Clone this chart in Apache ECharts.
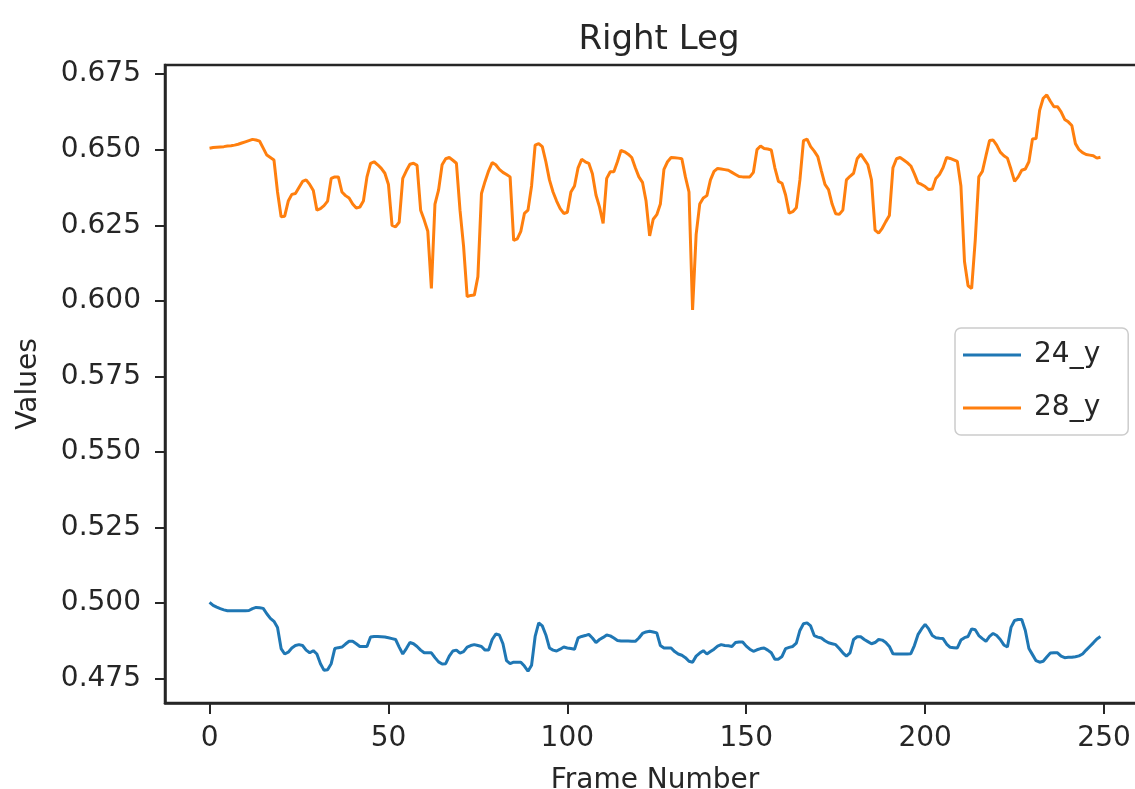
<!DOCTYPE html>
<html>
<head>
<meta charset="utf-8">
<script src="https://cdn.jsdelivr.net/npm/echarts@6/dist/echarts.min.js"></script>
<style>
  html, body { margin: 0; padding: 0; background: #fff; }
  #chart { width: 1135px; height: 789px; }
</style>
</head>
<body>
<div id="chart"></div>
<script>
// values, one per frame (0..249)
const y24 = [
  0.5003, 0.4993, 0.4987, 0.4982, 0.4978, 0.4975, 0.4975, 0.4975, 0.4975, 0.4975,
  0.4975, 0.4976, 0.4982, 0.4986, 0.4985, 0.4983, 0.4965, 0.4950, 0.4940, 0.4920,
  0.4850, 0.4832, 0.4838, 0.4852, 0.4860, 0.4863, 0.4860, 0.4845, 0.4836, 0.4843,
  0.4832, 0.4800, 0.4778, 0.4780, 0.4800, 0.4850, 0.4853, 0.4855, 0.4865, 0.4874,
  0.4874, 0.4866, 0.4857, 0.4857, 0.4857, 0.4888, 0.4890, 0.4890, 0.4889, 0.4888,
  0.4886, 0.4883, 0.4880, 0.4855, 0.4832, 0.4850, 0.4870, 0.4866, 0.4857, 0.4845,
  0.4836, 0.4836, 0.4836, 0.4820, 0.4806, 0.4799, 0.4800, 0.4825, 0.4842, 0.4845,
  0.4835, 0.4840, 0.4855, 0.4860, 0.4863, 0.4860, 0.4857, 0.4845, 0.4845, 0.4880,
  0.4898, 0.4895, 0.4866, 0.4810, 0.4800, 0.4805, 0.4805, 0.4805, 0.4792, 0.4775,
  0.4795, 0.4890, 0.4935, 0.4925, 0.4895, 0.4852, 0.4845, 0.4842, 0.4848, 0.4855,
  0.4852, 0.4850, 0.4848, 0.4885, 0.4890, 0.4893, 0.4897, 0.4885, 0.4870, 0.4880,
  0.4887, 0.4895, 0.4892, 0.4885, 0.4877, 0.4875, 0.4875, 0.4875, 0.4874, 0.4874,
  0.4885, 0.4900, 0.4905, 0.4907, 0.4905, 0.4902, 0.4860, 0.4852, 0.4852, 0.4852,
  0.4840, 0.4832, 0.4828, 0.4820, 0.4808, 0.4805, 0.4825, 0.4835, 0.4843, 0.4832,
  0.4840, 0.4848, 0.4858, 0.4863, 0.4860, 0.4859, 0.4857, 0.4870, 0.4872, 0.4872,
  0.4858, 0.4848, 0.4841, 0.4846, 0.4850, 0.4852, 0.4845, 0.4836, 0.4815, 0.4815,
  0.4824, 0.4850, 0.4854, 0.4857, 0.4868, 0.4910, 0.4932, 0.4935, 0.4925, 0.4893,
  0.4888, 0.4885, 0.4876, 0.4869, 0.4866, 0.4863, 0.4850, 0.4836, 0.4825, 0.4836,
  0.4880, 0.4889, 0.4889, 0.4880, 0.4873, 0.4866, 0.4870, 0.4880, 0.4878, 0.4870,
  0.4857, 0.4833, 0.4832, 0.4832, 0.4832, 0.4832, 0.4833, 0.4860, 0.4896, 0.4915,
  0.4930, 0.4915, 0.4893, 0.4886, 0.4884, 0.4883, 0.4865, 0.4854, 0.4853, 0.4852,
  0.4878, 0.4886, 0.4890, 0.4915, 0.4912, 0.4893, 0.4883, 0.4874, 0.4890, 0.4900,
  0.4893, 0.4880, 0.4862, 0.4855, 0.4920, 0.4943, 0.4946, 0.4946, 0.4910, 0.4850,
  0.4830, 0.4810, 0.4805, 0.4808, 0.4822, 0.4835, 0.4836, 0.4836, 0.4825, 0.4820,
  0.4821, 0.4821, 0.4823, 0.4826, 0.4832, 0.4845, 0.4857, 0.4869, 0.4882, 0.4890
];

const y28 = [
  0.6505, 0.6507, 0.6508, 0.6509, 0.6510, 0.6512, 0.6513, 0.6515, 0.6518, 0.6522,
  0.6526, 0.6530, 0.6534, 0.6532, 0.6528, 0.6505, 0.6482, 0.6474, 0.6466, 0.6360,
  0.6278, 0.6280, 0.6330, 0.6352, 0.6355, 0.6375, 0.6395, 0.6400, 0.6385, 0.6365,
  0.6300, 0.6305, 0.6315, 0.6330, 0.6405, 0.6410, 0.6410, 0.6360, 0.6348, 0.6340,
  0.6320, 0.6307, 0.6310, 0.6330, 0.6410, 0.6455, 0.6460, 0.6450, 0.6438, 0.6422,
  0.6385, 0.6250, 0.6245, 0.6260, 0.6405, 0.6430, 0.6452, 0.6455, 0.6448, 0.6300,
  0.6267, 0.6230, 0.6041, 0.6320, 0.6366, 0.6450, 0.6470, 0.6474, 0.6465, 0.6455,
  0.6300, 0.6180, 0.6014, 0.6018, 0.6019, 0.6080, 0.6355, 0.6395, 0.6430, 0.6457,
  0.6450, 0.6435, 0.6425, 0.6418, 0.6410, 0.6200, 0.6205, 0.6230, 0.6289, 0.6300,
  0.6380, 0.6515, 0.6520, 0.6510, 0.6460, 0.6400, 0.6360, 0.6330, 0.6305, 0.6289,
  0.6293, 0.6360, 0.6380, 0.6440, 0.6468, 0.6460, 0.6455, 0.6420, 0.6350, 0.6310,
  0.6256, 0.6405, 0.6427, 0.6427, 0.6460, 0.6498, 0.6493, 0.6485, 0.6474, 0.6440,
  0.6410, 0.6392, 0.6330, 0.6215, 0.6270, 0.6285, 0.6320, 0.6435, 0.6460, 0.6474,
  0.6473, 0.6472, 0.6470, 0.6410, 0.6360, 0.5970, 0.6220, 0.6320, 0.6340, 0.6348,
  0.6400, 0.6428, 0.6438, 0.6436, 0.6434, 0.6432, 0.6425, 0.6418, 0.6411, 0.6410,
  0.6410, 0.6410, 0.6425, 0.6500, 0.6512, 0.6504, 0.6502, 0.6499, 0.6440, 0.6395,
  0.6389, 0.6350, 0.6290, 0.6295, 0.6308, 0.6400, 0.6530, 0.6535, 0.6510, 0.6495,
  0.6477, 0.6430, 0.6385, 0.6368, 0.6320, 0.6288, 0.6286, 0.6300, 0.6400, 0.6412,
  0.6422, 0.6470, 0.6485, 0.6468, 0.6450, 0.6400, 0.6234, 0.6224, 0.6240, 0.6262,
  0.6282, 0.6440, 0.6470, 0.6474, 0.6466, 0.6457, 0.6446, 0.6420, 0.6390, 0.6385,
  0.6378, 0.6368, 0.6370, 0.6405, 0.6418, 0.6440, 0.6474, 0.6471, 0.6466, 0.6461,
  0.6380, 0.6130, 0.6050, 0.6041, 0.6200, 0.6410, 0.6428, 0.6480, 0.6530, 0.6532,
  0.6515, 0.6492, 0.6480, 0.6472, 0.6435, 0.6395, 0.6410, 0.6432, 0.6436, 0.6460,
  0.6535, 0.6537, 0.6630, 0.6670, 0.6681, 0.6660, 0.6642, 0.6642, 0.6625, 0.6600,
  0.6592, 0.6580, 0.6520, 0.6500, 0.6490, 0.6484, 0.6482, 0.6480, 0.6472, 0.6475
];

const xTicks = [0, 50, 100, 150, 200, 250];
const yTicks = [0.475, 0.5, 0.525, 0.55, 0.575, 0.6, 0.625, 0.65, 0.675];

const textColor = '#262626';
const font = 'DejaVu Sans';

const chart = echarts.init(document.getElementById('chart'));
chart.setOption({
  animation: false,
  title: {
    text: 'Right Leg',
    left: 654,
    textAlign: 'center',
    top: 18,
    textStyle: { fontFamily: font, fontSize: 34, fontWeight: 'normal', color: textColor }
  },
  grid: {
    left: 165,
    top: 65,
    width: 980,
    height: 638,
    outerBoundsMode: 'none',
    show: true,
    borderColor: '#262626',
    borderWidth: 2.5
  },
  legend: {
    orient: 'vertical',
    left: 955,
    top: 328,
    icon: 'rect',
    itemWidth: 58,
    itemHeight: 3,
    itemGap: 25,
    padding: [13, 28, 13, 8],
    borderColor: '#cccccc',
    borderWidth: 1.5,
    borderRadius: 6,
    backgroundColor: '#fff',
    textStyle: { fontFamily: font, fontSize: 28, color: textColor, padding: [0, 0, 0, 8] },
    data: ['24_y', '28_y']
  },
  xAxis: {
    type: 'value',
    min: -12.45,
    max: 261.45,
    name: 'Frame Number',
    nameLocation: 'middle',
    nameGap: 64,
    nameTextStyle: { fontFamily: font, fontSize: 28, color: textColor },
    axisLine: { show: true, onZero: false, lineStyle: { color: '#262626', width: 2.5 } },
    axisTick: { show: true, length: 11, lineStyle: { color: '#262626', width: 2 }, customValues: xTicks },
    axisLabel: {
      fontFamily: font, fontSize: 28, color: textColor, margin: 22,
      customValues: xTicks,
      formatter: v => String(v)
    },
    splitLine: { show: false }
  },
  yAxis: {
    type: 'value',
    min: 0.467,
    max: 0.678,
    name: 'Values',
    nameLocation: 'middle',
    nameRotate: 90,
    nameGap: 122,
    nameTextStyle: { fontFamily: font, fontSize: 28, color: textColor },
    axisLine: { show: true, onZero: false, lineStyle: { color: '#262626', width: 2.5 } },
    axisTick: { show: true, length: 10, lineStyle: { color: '#262626', width: 2 }, customValues: yTicks },
    axisLabel: {
      fontFamily: font, fontSize: 28, color: textColor, margin: 24,
      customValues: yTicks,
      formatter: v => v.toFixed(3)
    },
    splitLine: { show: false }
  },
  series: [
    {
      name: '24_y',
      type: 'line',
      symbol: 'none',
      data: y24.map((v, i) => [i, v]),
      lineStyle: { color: '#1f77b4', width: 3 },
      itemStyle: { color: '#1f77b4' }
    },
    {
      name: '28_y',
      type: 'line',
      symbol: 'none',
      data: y28.map((v, i) => [i, v]),
      lineStyle: { color: '#ff7f0e', width: 3 },
      itemStyle: { color: '#ff7f0e' }
    }
  ]
});
</script>
</body>
</html>
